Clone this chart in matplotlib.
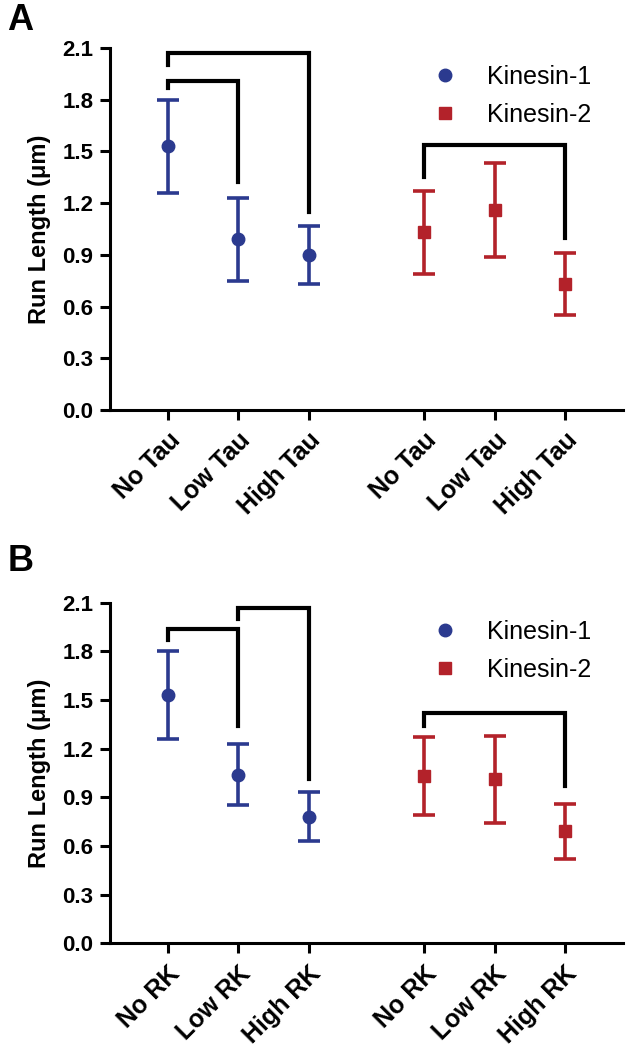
import matplotlib
matplotlib.use("Agg")
import matplotlib.pyplot as plt
from matplotlib.lines import Line2D

plt.rcParams["font.family"] = ["Liberation Sans", "DejaVu Sans"]

positions = [0, 1, 2, 3.65, 4.65, 5.65]
labels_a = ["No Tau", "Low Tau", "High Tau", "No Tau", "Low Tau", "High Tau"]
labels_b = ["No RK", "Low RK", "High RK", "No RK", "Low RK", "High RK"]

# panel A (tau)
k1_mean_a = [1.53, 0.99, 0.90]
k1_low_a = [1.26, 0.75, 0.73]
k1_high_a = [1.80, 1.23, 1.07]
k2_mean_a = [1.03, 1.16, 0.73]
k2_low_a = [0.79, 0.89, 0.55]
k2_high_a = [1.27, 1.43, 0.91]
# brackets: (left index, right index, top y, left leg end, right leg end)
brackets_a = [(0, 1, 1.91, 1.87, 1.32), (0, 2, 2.07, 2.00, 1.15), (3, 5, 1.54, 1.35, 1.00)]

# panel B (RK)
k1_mean_b = [1.53, 1.04, 0.78]
k1_low_b = [1.26, 0.85, 0.63]
k1_high_b = [1.80, 1.23, 0.93]
k2_mean_b = [1.03, 1.01, 0.69]
k2_low_b = [0.79, 0.74, 0.52]
k2_high_b = [1.27, 1.28, 0.86]
brackets_b = [(0, 1, 1.94, 1.87, 1.34), (1, 2, 2.07, 2.00, 1.01), (3, 5, 1.42, 1.34, 0.97)]

blue = "#2b3a8f"
red = "#b3222a"


def panel(ax, k1, k2, brackets, labels):
    for (mean, lo, hi), xs, color, marker, ms in [
        (k1, positions[:3], blue, "o", 9),
        (k2, positions[3:], red, "s", 9),
    ]:
        yerr = [[m - l for m, l in zip(mean, lo)], [h - m for m, h in zip(mean, hi)]]
        ax.errorbar(xs, mean, yerr=yerr, fmt=marker, color=color, ms=ms,
                    elinewidth=2.6, capsize=8, capthick=2.6, clip_on=False, zorder=3)
    for i, j, top, l_end, r_end in brackets:
        ax.plot([positions[i], positions[i], positions[j], positions[j]],
                [l_end, top, top, r_end], color="black", lw=3, clip_on=False,
                solid_joinstyle="miter", zorder=2)
    ax.set_xlim(-0.825, 6.475)
    ax.set_ylim(0, 2.1)
    ax.set_yticks([0, 0.3, 0.6, 0.9, 1.2, 1.5, 1.8, 2.1])
    ax.set_yticklabels(["0.0", "0.3", "0.6", "0.9", "1.2", "1.5", "1.8", "2.1"])
    ax.set_xticks(positions)
    ax.set_xticklabels(labels, rotation=45, ha="right", rotation_mode="anchor")
    for s in ["top", "right"]:
        ax.spines[s].set_visible(False)
    for s in ["left", "bottom"]:
        ax.spines[s].set_linewidth(2.2)
    ax.tick_params(width=2.2, length=7, labelsize=16, pad=5)
    ax.tick_params(axis="x", labelsize=18, pad=6)
    for t in ax.get_xticklabels() + ax.get_yticklabels():
        t.set_fontweight("bold")
    ax.set_ylabel("Run Length (\u03bcm)", fontsize=17, fontweight="bold", labelpad=8)
    handles = [
        Line2D([], [], marker="o", color=blue, ls="none", ms=9),
        Line2D([], [], marker="s", color=red, ls="none", ms=9),
    ]
    ax.legend(handles, ["Kinesin-1", "Kinesin-2"], loc="upper left",
              bbox_to_anchor=(0.56, 1.015), frameon=False, fontsize=18,
              handletextpad=0.7, labelspacing=0.55)


fig = plt.figure(figsize=(6.26, 10.5), dpi=100)
ax_a = fig.add_axes([0.1757, 0.6095, 0.8195, 0.3448])
ax_b = fig.add_axes([0.1757, 0.1016, 0.8195, 0.3244])
panel(ax_a, (k1_mean_a, k1_low_a, k1_high_a), (k2_mean_a, k2_low_a, k2_high_a), brackets_a, labels_a)
panel(ax_b, (k1_mean_b, k1_low_b, k1_high_b), (k2_mean_b, k2_low_b, k2_high_b), brackets_b, labels_b)

fig.text(0.012, 0.997, "A", fontsize=26, fontweight="bold", va="top")
fig.text(0.012, 0.482, "B", fontsize=26, fontweight="bold", va="top")

fig.savefig("out.png", dpi=100)
